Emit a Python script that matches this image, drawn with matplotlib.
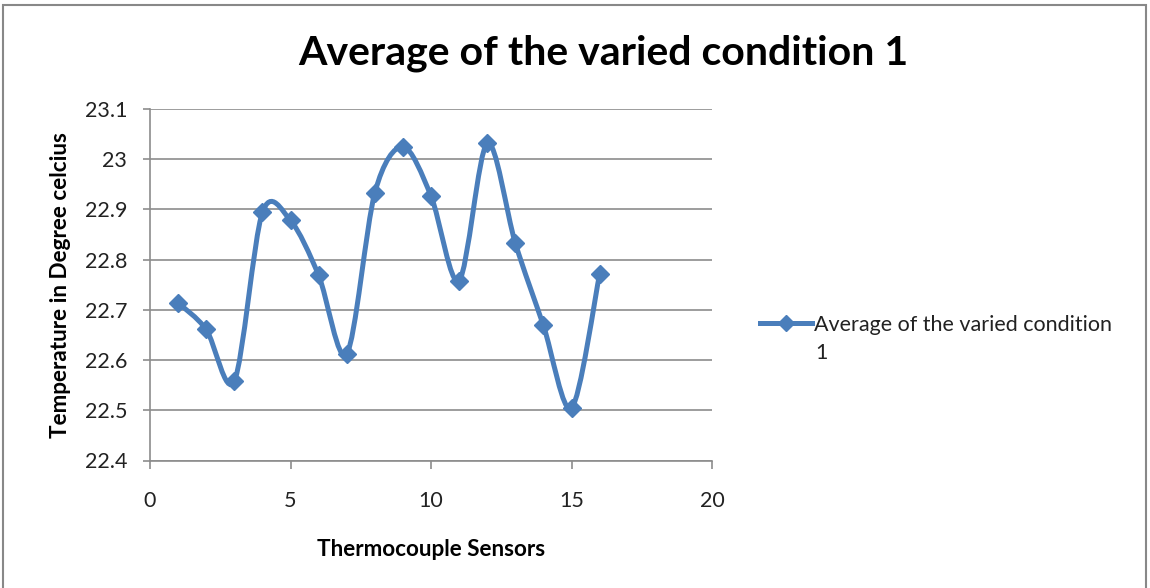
import numpy as np
import matplotlib
matplotlib.use("Agg")
import matplotlib.pyplot as plt
from matplotlib.path import Path
from matplotlib.patches import PathPatch, Rectangle
from matplotlib.ticker import FuncFormatter

plt.rcParams['font.family'] = ['Lato', 'DejaVu Sans']

sensors = [1, 2, 3, 4, 5, 6, 7, 8, 9, 10, 11, 12, 13, 14, 15, 16]
temps = [22.714, 22.661, 22.558, 22.894, 22.878, 22.769, 22.612, 22.933,
         23.025, 22.927, 22.758, 23.032, 22.833, 22.669, 22.504, 22.771]
series_name = "Average of the varied condition"
series_name_wrap = "1"

blue = '#4A7EBB'

fig = plt.figure(figsize=(11.5, 5.88), dpi=100)
fig.patches.append(Rectangle((3 / 1150, -0.01), 1143 / 1150, 1 - 5 / 588 + 0.01,
                             transform=fig.transFigure, fill=False,
                             edgecolor='#888888', linewidth=1.5))
ax = fig.add_axes([150 / 1150, 1 - 460.5 / 588, 562 / 1150, 351.5 / 588])

# excel-style smoothed line: cubic bezier segments through the points
x = np.array(sensors, dtype=float)
y = np.array(temps)
P = np.column_stack([x, y])
verts = [P[0]]
codes = [Path.MOVETO]
n = len(P)
k = 1 / 6.5
for i in range(n - 1):
    p0 = P[i - 1] if i > 0 else P[i]
    p3 = P[i + 2] if i + 2 < n else P[i + 1]
    c1 = P[i] + (P[i + 1] - p0) * k
    c2 = P[i + 1] - (p3 - P[i]) * k
    verts += [c1, c2, P[i + 1]]
    codes += [Path.CURVE4] * 3
ax.add_patch(PathPatch(Path(verts, codes), facecolor='none', edgecolor=blue,
                       linewidth=3.6, zorder=3))
ax.plot(x, y, linestyle='none', marker='D', markersize=9.5, color=blue, zorder=4)
ax.plot([], [], color=blue, linewidth=3.6, marker='D', markersize=8, label=series_name)

ax.set_xlim(0, 20)
ax.set_ylim(22.4, 23.1)
ax.set_xticks([0, 5, 10, 15, 20])
ax.set_yticks(np.round(np.arange(22.4, 23.11, 0.1), 1))
ax.yaxis.set_major_formatter(FuncFormatter(lambda v, p: '%g' % round(v, 1)))
ax.grid(axis='y', color='#8c8c8c', linewidth=1.2)
ax.set_axisbelow(True)
for s in ['top', 'right']:
    ax.spines[s].set_visible(False)
for s in ['left', 'bottom']:
    ax.spines[s].set_color('#8c8c8c')
    ax.spines[s].set_linewidth(1.2)
ax.tick_params(axis='both', colors='#8c8c8c', labelcolor='#222222', labelsize=15.5,
               width=1.2)
ax.tick_params(axis='x', length=6, pad=16)
ax.tick_params(axis='y', length=5, pad=11.5)

ax.set_xlabel("Thermocouple Sensors", fontsize=16.2, fontweight='bold', labelpad=20)
ax.set_ylabel("Temperature in Degree celcius", fontsize=16.2, fontweight='bold', labelpad=10)
fig.text(603 / 1150, 1 - 53 / 588, "Average of the varied condition 1",
         ha='center', va='center', fontsize=29.5, fontweight='bold')

fig.legend(loc='center left', bbox_to_anchor=(760 / 1150, 1 - 325 / 588), frameon=False,
           fontsize=15.5, handlelength=2.4, handletextpad=0.1, borderpad=0,
           borderaxespad=0, labelcolor='#222222')
fig.text(815 / 1150, 1 - 353 / 588, series_name_wrap, ha='left', va='center',
         fontsize=15.5, color='#222222')

fig.savefig("out.png", dpi=100)
